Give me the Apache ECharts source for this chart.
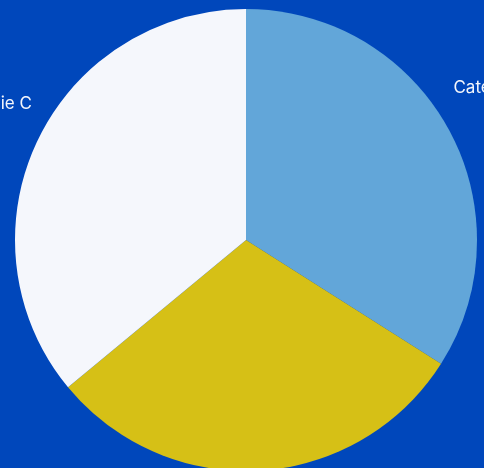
<!DOCTYPE html>
<html><head><meta charset="utf-8">
<script src="https://cdn.jsdelivr.net/npm/echarts@6/dist/echarts.min.js"></script>
<style>html,body{margin:0;padding:0;background:#0047BB;}#c{width:484px;height:468px;}</style>
</head><body><div id="c"></div>
<script>
const categories = ['Categorie A', 'Categorie B', 'Categorie C'];
const values = [34, 30, 36];
const colors = ['#62A6D9', '#D6C016', '#F5F7FC'];
const showLabel = [true, false, true];

const chart = echarts.init(document.getElementById('c'));
chart.setOption({
  backgroundColor: '#0047BB',
  animation: false,
  series: [{
    type: 'pie',
    center: [246, 240],
    radius: 231,
    startAngle: 90,
    clockwise: true,
    avoidLabelOverlap: false,
    data: categories.map((n, i) => ({
      name: n, value: values[i],
      itemStyle: { color: colors[i] },
      label: { show: showLabel[i] }
    })),
    label: { color: '#F5F7FC', fontFamily: 'Inter', fontSize: 17, overflow: 'none' },
    labelLine: { show: false, length: 0, length2: 0 },
    labelLayout: function (p) { return { dy: p.labelRect.x < 242 ? -38 : -41 }; }
  }]
});
</script></body></html>
